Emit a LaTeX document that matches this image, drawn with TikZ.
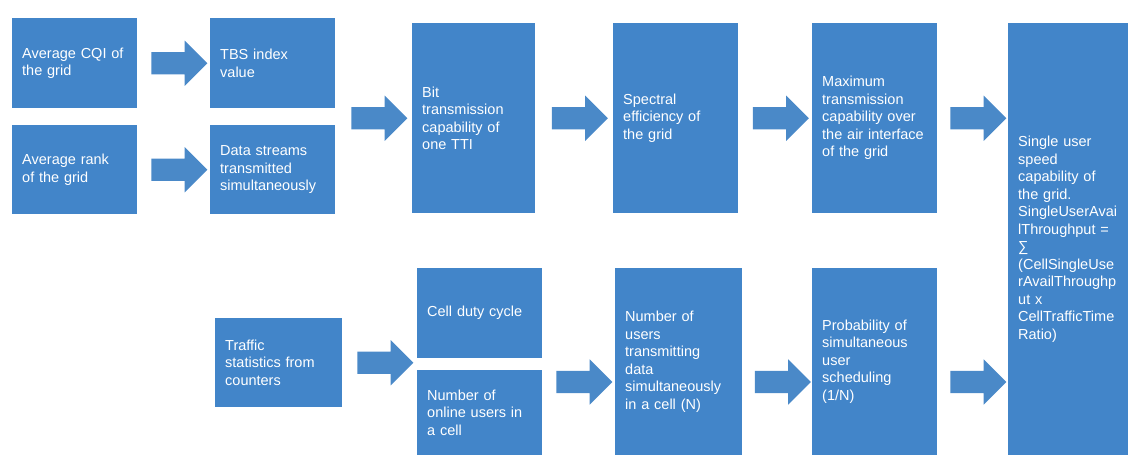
\documentclass[tikz,border=0pt]{standalone}
\usepackage{fontspec}
\setmainfont{Liberation Sans}
\usetikzlibrary{calc}
\usetikzlibrary{shapes.arrows}
\definecolor{bx}{HTML}{4285C9}
\definecolor{ar}{HTML}{4A89C8}
\definecolor{fg}{HTML}{FFFFFF}

\begin{document}
\begin{tikzpicture}[x=1pt, y=-1pt,
  box/.style={rectangle, fill=bx, text=fg, anchor=north west, inner xsep=10pt, inner ysep=0pt,
    align=left, text width=105pt, minimum width=125pt, font=\fontsize{14.5}{17.5}\selectfont},
  blk/.style={single arrow, fill=ar, minimum height=56pt, minimum width=45pt,
    single arrow head extend=11.5pt, inner xsep=0pt, inner ysep=11pt}]

  \useasboundingbox (0,0) rectangle (1128,459);
  \clip (0,0) rectangle (1128,459);

  \node[box, minimum height=90pt] (cqi) at (12,18) {Average CQI of\\the grid};
  \node[box, minimum height=89pt] (rank) at (12,125) {Average rank\\of the grid};
  \node[box, minimum height=90pt] (tbs) at (210,18) {TBS index\\value};
  \node[box, minimum height=89pt] (streams) at (210,125) {Data streams\\transmitted\\simultaneously};
  \node[box, minimum height=190pt, minimum width=123pt, text width=103pt] (bits) at (412,23) {Bit\\transmission\\capability of\\one TTI};
  \node[box, minimum height=190pt] (spec) at (613,23) {Spectral\\efficiency of\\the grid};
  \node[box, minimum height=190pt] (maxair) at (812,23) {Maximum\\transmission\\capability over\\the air interface\\of the grid};
  \node[box, minimum height=432pt] (single) at (1008,23) {Single user\\speed\\capability of\\the grid.\\SingleUserAvai\\lThroughput =\\∑\\(CellSingleUse\\rAvailThroughp\\ut x\\CellTrafficTime\\Ratio)};

  \node[box, minimum height=89pt, minimum width=127pt, text width=107pt] (traffic) at (215,318) {Traffic\\statistics from\\counters};
  \node[box, minimum height=90pt] (duty) at (417,268) {Cell duty cycle};
  \node[box, minimum height=85pt] (online) at (417,370) {Number of\\online users in\\a cell};
  \node[box, minimum height=187pt, minimum width=127pt, text width=107pt] (nusers) at (615,268) {Number of\\users\\transmitting\\data\\simultaneously\\in a cell (N)};
  \node[box, minimum height=187pt] (prob) at (812,268) {Probability of\\simultaneous\\user\\scheduling\\(1/N)};

  \coordinate (low) at (0,382);
  \node[blk] (a1) at ($(cqi.east)!0.5!(tbs.west)$) {};
  \node[blk] (a2) at ($(rank.east)!0.5!(streams.west)$) {};
  \node[blk] (a3) at ($(tbs.east|-bits.west)!0.5!(bits.west)$) {};
  \node[blk] (a4) at ($(bits.east)!0.5!(spec.west)$) {};
  \node[blk] (a5) at ($(spec.east)!0.5!(maxair.west)$) {};
  \node[blk] (a6) at ($(maxair.east)!0.5!(single.west|-maxair.east)$) {};
  \node[blk] (a7) at ($(traffic.east)!0.5!(duty.west|-traffic.east)$) {};
  \node[blk] (a8) at ($(online.east|-low)!0.5!(nusers.west|-low)$) {};
  \node[blk] (a9) at ($(nusers.east|-low)!0.5!(prob.west|-low)$) {};
  \node[blk] (a10) at ($(prob.east|-low)!0.5!(single.west|-low)$) {};

\end{tikzpicture}
\end{document}
